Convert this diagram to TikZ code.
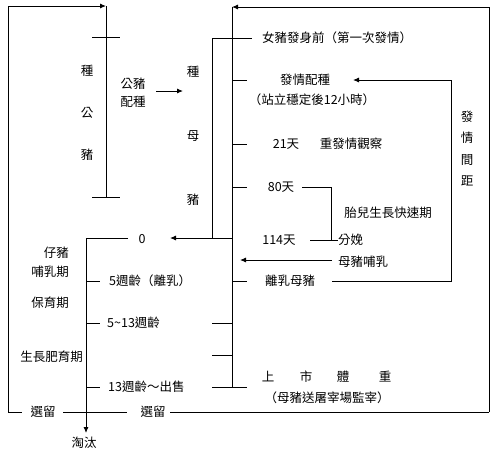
\documentclass[tikz,border=0pt]{standalone}
\usepackage{fontspec}
\newfontfamily\cjk{Noto Sans CJK TC}
\usetikzlibrary{arrows.meta}
\begin{document}
\begin{tikzpicture}[x=1pt,y=-1pt,
  ln/.style={line width=0.9pt,draw=black},
  arr/.style={ln,-{Latex[length=6pt,width=5pt]}},
  lbl/.style={inner sep=0pt,font=\cjk\fontsize{12.5}{16}\selectfont},
  lblr/.style={lbl,anchor=east},
  lbll/.style={lbl,anchor=west}]
\useasboundingbox (0,0) rectangle (500,451);
% key coordinates
\coordinate (tl) at (8,6);
\coordinate (boartop) at (106,6);
\coordinate (boarbot) at (106,197);
\coordinate (bl) at (8,412);
\coordinate (br) at (489,412);
\coordinate (tr) at (489,7);
\coordinate (mtop) at (232,7);
\coordinate (mbot) at (232,387);
\coordinate (stop) at (212,38);
\coordinate (sbot) at (212,238);
\coordinate (pig0) at (86,238);
\coordinate (pigend) at (86,433);
% texts
\node[lbl] (z1) at (87,71) {種};
\node[lbl] (z2) at (87,113) {公};
\node[lbl] (z3) at (87,155) {豬};
\node[lbl,align=center] (gp) at (133,93) {公豬\\[2pt]配種};
\node[lbl] (m1) at (193,72) {種};
\node[lbl] (m2) at (193,136) {母};
\node[lbl] (m3) at (193,200) {豬};
\node[lbll] (t1) at (262,38) {女豬發身前（第一次發情）};
\node[lbl] (t2) at (305,80) {發情配種};
\node[lbl] (t2b) at (312,100) {（站立穩定後12小時）};
\node[lbl] (t3) at (286,144) {21天};
\node[lbl] (t3b) at (351,144) {重發情觀察};
\node[lbl] (t4) at (281,187) {80天};
\node[lbl] (t5) at (388,213) {胎兒生長快速期};
\node[lbl] (t6) at (279,240) {114天};
\node[lbll] (t6b) at (338,240) {分娩};
\node[lbll] (t7) at (338,262) {母豬哺乳};
\node[lbl] (t8) at (290,281) {離乳母豬};
\node[lbl] (e1) at (467,117) {發};
\node[lbl] (e2) at (467,138) {情};
\node[lbl] (e3) at (467,160) {間};
\node[lbl] (e4) at (467,181) {距};
\node[lbl] (u1) at (268,377) {上};
\node[lbl] (u2) at (306,377) {市};
\node[lbl] (u3) at (343,377) {體};
\node[lbl] (u4) at (385,377) {重};
\node[lbl] (u5) at (327,398) {（母豬送屠宰場監宰）};
\node[lbl] (p0) at (142,239) {0};
\node[lblr] (a1) at (69,253) {仔豬};
\node[lblr] (a2) at (69,272) {哺乳期};
\node[lblr] (a3) at (69,303) {保育期};
\node[lblr] (a4) at (83,357) {生長肥育期};
\node[lbll] (b1) at (109,281) {5週齡（離乳）};
\node[lbll] (b2) at (107,323) {5\textasciitilde13週齡};
\node[lbll] (b3) at (108,387) {13週齡～出售};
\node[lbl] (s1) at (43,412) {選留};
\node[lbl] (s2) at (153,412) {選留};
\node[lbl] (tt) at (84,443) {淘汰};
% boar loop
\draw[ln] (bl) -- (22,412);
\draw[ln] (63,412) -- (127,412);
\draw[ln] (170,412) -- (br);
\draw[arr] (bl) -- (tl) -- (boartop);
\draw[ln] (boartop) -- (boarbot);
\draw[ln] (92,37) -- (120,37);
\draw[ln] (92,197) -- (120,197);
\draw[arr] (156,91) -- (183,91);
% sow main loop
\draw[arr] (br) -- (tr) -- (mtop);
\draw[ln] (mtop) -- (mbot);
\draw[ln] (sbot) -- (stop) -- (252,38);
\foreach \yy in {80,144,187,281} \draw[ln] (232,\yy) -- (247,\yy);
\foreach \yy in {323,355} \draw[ln] (212,\yy) -- (232,\yy);
\draw[ln] (212,387) -- (247,387);
\draw[arr] (232,238) -- (170,238);
% piglets
\draw[ln] (128,238) -- (pig0);
\draw[arr] (pig0) -- (pigend);
\foreach \yy in {281,323,387} \draw[ln] (86,\yy) -- (100,\yy);
% gestation
\draw[ln] (302,187) -- (331,187) -- (331,240);
\draw[ln] (310,240) -- (t6b.west);
\draw[arr] (332,260) -- (240,260);
% estrus interval
\draw[arr] (332,281) -- (451,281) -- (451,80) -- (353,80);
\end{tikzpicture}
\end{document}
